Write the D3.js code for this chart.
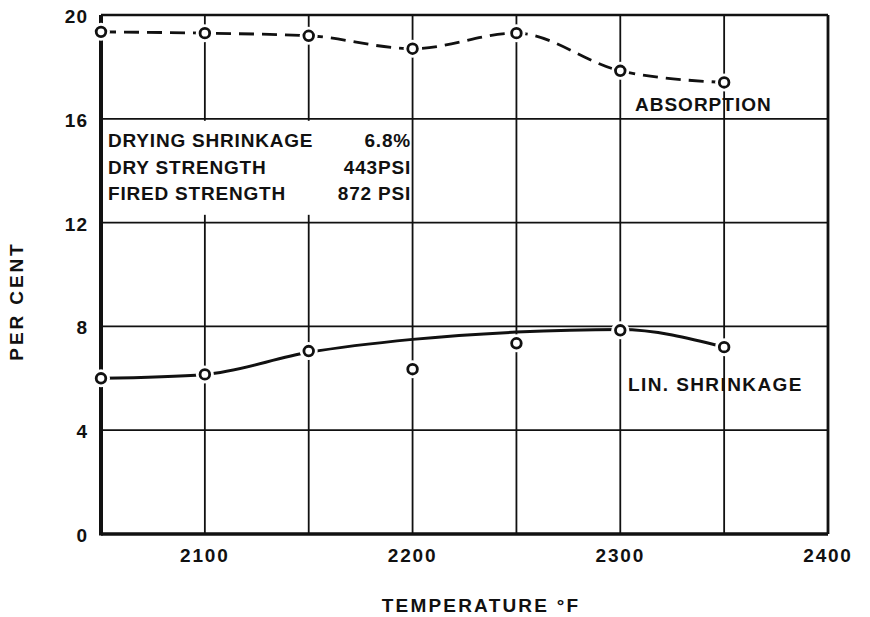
<!DOCTYPE html>
<html><head><meta charset="utf-8">
<script src="https://cdn.jsdelivr.net/npm/d3@7"></script>
<style>
html,body{margin:0;padding:0;background:#fff;}
svg{display:block;}
text{font-family:"Liberation Sans",Arial,sans-serif;font-weight:bold;fill:#111;}
</style></head>
<body>
<script>
const temps = [2050, 2100, 2150, 2200, 2250, 2300, 2350];
const absorption = [19.35, 19.3, 19.2, 18.7, 19.3, 17.85, 17.4];
const linShrinkage = [6.0, 6.15, 7.05, 6.35, 7.35, 7.85, 7.2];
const linShrinkageCurve = [6.0, 6.15, 7.0, 7.5, 7.78, 7.88, 7.2];
const xTicks = [2100, 2200, 2300, 2400];
const yTicks = [0, 4, 8, 12, 16, 20];
const xGrid = [2100, 2150, 2200, 2250, 2300, 2350];
const noteLabels = ["DRYING SHRINKAGE", "DRY STRENGTH", "FIRED STRENGTH"];
const noteValues = ["6.8%", "443PSI", "872 PSI"];

const W = 870, H = 617;
const svg = d3.select("body").append("svg").attr("width", W).attr("height", H);
const x = d3.scaleLinear().domain([2050, 2400]).range([101, 828]);
const y = d3.scaleLinear().domain([0, 20]).range([534, 15]);
const ink = "#111";

// grid
const g = svg.append("g");
g.selectAll(".vg").data(xGrid).enter().append("line")
  .attr("x1", d => x(d)).attr("x2", d => x(d)).attr("y1", y(0)).attr("y2", y(20))
  .attr("stroke", ink).attr("stroke-width", 1.8);
g.selectAll(".hg").data(yTicks.filter(d => d > 0 && d < 20)).enter().append("line")
  .attr("x1", x(2050)).attr("x2", x(2400)).attr("y1", d => y(d)).attr("y2", d => y(d))
  .attr("stroke", ink).attr("stroke-width", 1.8);

// note box (white background hides grid)
g.append("rect").attr("x", x(2050) + 2).attr("y", y(16) + 2)
  .attr("width", x(2200) - x(2050) - 4).attr("height", y(12.3) - y(16) - 2)
  .attr("fill", "#fff");
noteLabels.forEach((t, i) => {
  g.append("text").attr("x", 108).attr("y", 147 + i * 26.5)
    .attr("font-size", 19).attr("letter-spacing", 0.8).text(t);
  g.append("text").attr("x", 411).attr("y", 147 + i * 26.5)
    .attr("text-anchor", "end").attr("font-size", 19).attr("letter-spacing", 0.8).text(noteValues[i]);
});

// frame
g.append("line").attr("x1", x(2050)).attr("x2", x(2400)).attr("y1", y(20)).attr("y2", y(20))
  .attr("stroke", ink).attr("stroke-width", 2.4);
g.append("line").attr("x1", x(2400)).attr("x2", x(2400)).attr("y1", y(20)).attr("y2", y(0))
  .attr("stroke", ink).attr("stroke-width", 2.8);
g.append("line").attr("x1", x(2050)).attr("x2", x(2050)).attr("y1", y(20)).attr("y2", y(0) + 1.5)
  .attr("stroke", ink).attr("stroke-width", 4);
g.append("line").attr("x1", x(2050)).attr("x2", x(2400)).attr("y1", y(0)).attr("y2", y(0))
  .attr("stroke", ink).attr("stroke-width", 3.4);

// curves
const lineA = d3.line().x((d, i) => x(temps[i])).y(d => y(d)).curve(d3.curveMonotoneX);
g.append("path").attr("d", lineA(absorption)).attr("fill", "none")
  .attr("stroke", ink).attr("stroke-width", 2.8).attr("stroke-dasharray", "15,8");
g.append("path").attr("d", lineA(linShrinkageCurve)).attr("fill", "none")
  .attr("stroke", ink).attr("stroke-width", 3);

// markers
function markers(vals) {
  g.selectAll(null).data(vals).enter().append("circle")
    .attr("cx", (d, i) => x(temps[i])).attr("cy", d => y(d)).attr("r", 9).attr("fill", "#fff");
  g.selectAll(null).data(vals).enter().append("circle")
    .attr("cx", (d, i) => x(temps[i])).attr("cy", d => y(d)).attr("r", 4.8)
    .attr("fill", "#fff").attr("stroke", ink).attr("stroke-width", 2.8);
}
markers(absorption);
markers(linShrinkage);

// axis tick labels
const fs = 19;
g.selectAll(".yt").data(yTicks).enter().append("text")
  .attr("x", 88).attr("y", d => y(d) + 8).attr("text-anchor", "end")
  .attr("font-size", fs).attr("letter-spacing", 1).text(d => d);
g.selectAll(".xt").data(xTicks).enter().append("text")
  .attr("x", d => x(d)).attr("y", 562).attr("text-anchor", "middle")
  .attr("font-size", fs).attr("letter-spacing", 1.8).text(d => d);

// series labels
g.append("text").attr("x", 635).attr("y", 111).attr("font-size", 19).attr("letter-spacing", 1).text("ABSORPTION");
g.append("text").attr("x", 628).attr("y", 391).attr("font-size", 19).attr("letter-spacing", 1.4).text("LIN. SHRINKAGE");

// axis titles
g.append("text").attr("x", 481).attr("y", 612).attr("text-anchor", "middle")
  .attr("font-size", 19).attr("letter-spacing", 2.2).text("TEMPERATURE °F");
g.append("text").attr("transform", "translate(23,301) rotate(-90)").attr("text-anchor", "middle")
  .attr("font-size", 19).attr("letter-spacing", 2.9).text("PER CENT");
</script>
</body></html>
